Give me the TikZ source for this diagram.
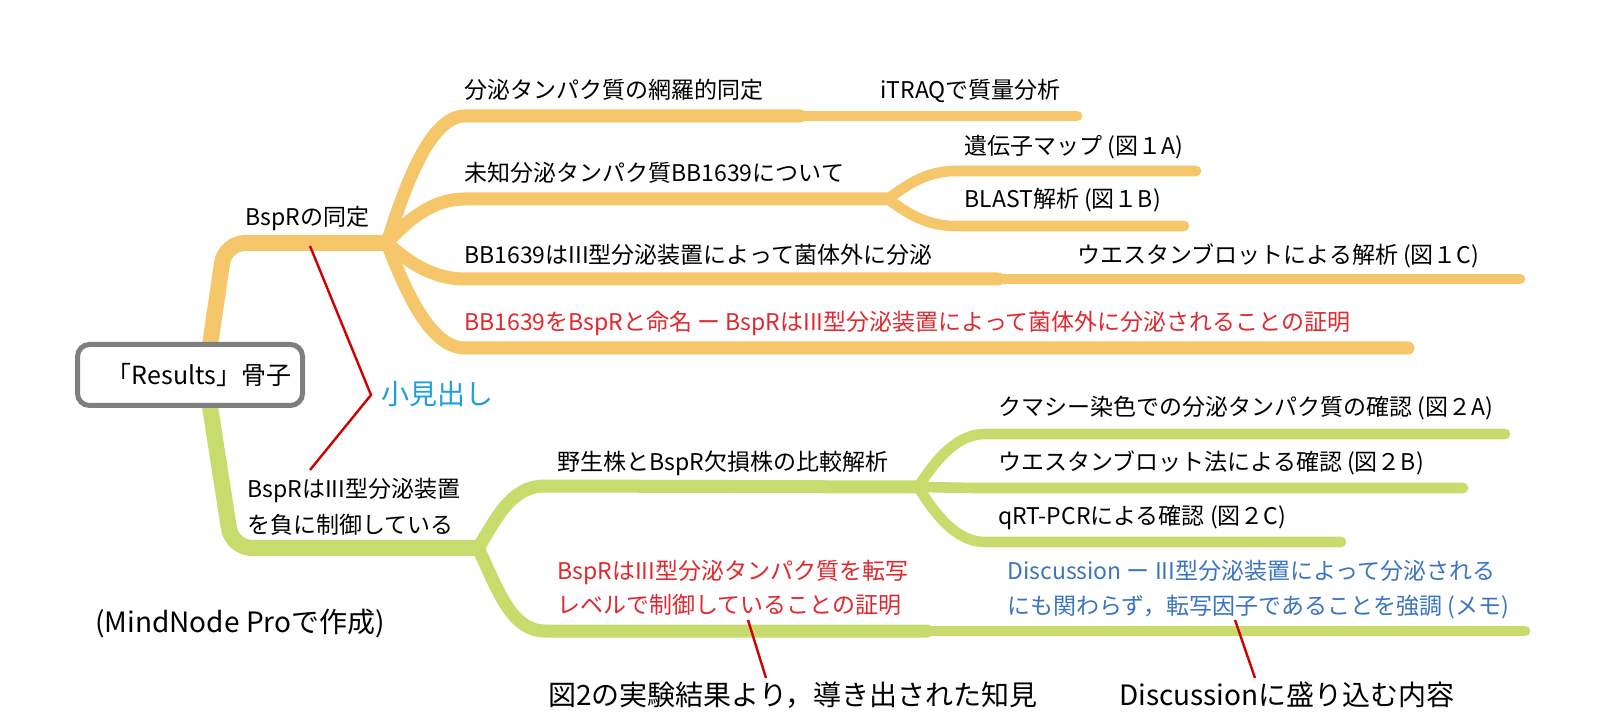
\documentclass[tikz,border=0pt]{standalone}
\usepackage{fontspec}
\setmainfont{Noto Sans CJK JP}
\definecolor{orangeb}{HTML}{F6C66A}
\definecolor{greenb}{HTML}{C7DC6C}
\definecolor{redt}{HTML}{E0282E}
\definecolor{bluet}{HTML}{3B74BF}
\definecolor{cyant}{HTML}{1E9FE0}
\definecolor{redl}{HTML}{D00000}
\definecolor{boxgray}{HTML}{7F7F7F}
\tikzset{
  lbl/.style={anchor=base west, inner sep=0pt, font=\fontsize{11.5pt}{14pt}\selectfont},
  anno/.style={anchor=base west, inner sep=0pt, font=\fontsize{#1}{#1}\selectfont},
  brmain/.style={line width=8pt, line cap=round, rounded corners=10pt},
  brchild/.style={line width=6.5pt, line cap=round},
  brgrand/.style={line width=5.3pt, line cap=round},
  notel/.style={draw=redl, line width=1.2pt},
  rootbox/.style={draw=boxgray, line width=2.5pt, fill=white, rounded corners=6pt,
    minimum width=112.5pt, minimum height=30.5pt, inner sep=0pt,
    font=\fontsize{12.5pt}{14pt}\selectfont}
}
\begin{document}
\begin{tikzpicture}[x=0.5pt,y=-0.5pt]
\fill[white] (0,0) rectangle (1600,715);
\useasboundingbox (0,0) rectangle (1600,715);

% ---------- orange branch ----------
\coordinate (oR) at (209,352);
\coordinate (oF) at (387,243);
\coordinate (c1s) at (465,116); \coordinate (c1e) at (800,116); \coordinate (c1g) at (1077,116);
\coordinate (c2s) at (465,199); \coordinate (c2F) at (888,199);
\coordinate (c21s) at (955,171); \coordinate (c21e) at (1196,171);
\coordinate (c22s) at (955,226); \coordinate (c22e) at (1184,226);
\coordinate (c3s) at (465,279); \coordinate (c3e) at (998,279); \coordinate (c3g) at (1520,279);
\coordinate (c4s) at (465,348); \coordinate (c4e) at (1408,348);

\begin{scope}[draw=orangeb]
\draw[brmain] (oR) -- (225,243) -- (oF);
\draw[brchild] (oF) .. controls +(18,-57) and +(-35,0) .. (c1s) -- (c1e);
\draw[brgrand] (c1e) -- (c1g);
\draw[brchild] (oF) .. controls +(18,-20) and +(-35,0) .. (c2s) -- (c2F);
\draw[brgrand] (c2F) .. controls +(16,-12) and +(-30,0) .. (c21s) -- (c21e);
\draw[brgrand] (c2F) .. controls +(16,12) and +(-30,0) .. (c22s) -- (c22e);
\draw[brchild] (oF) .. controls +(18,16) and +(-35,0) .. (c3s) -- (c3e);
\draw[brgrand] (c3e) -- (c3g);
\draw[brchild] (oF) .. controls +(18,47) and +(-35,0) .. (c4s) -- (c4e);
\end{scope}

% ---------- green branch ----------
\coordinate (gR) at (209,400);
\coordinate (gF) at (478,548);
\coordinate (gAs) at (545,486); \coordinate (gAF) at (918,487);
\coordinate (gA1s) at (985,434); \coordinate (gA1e) at (1505,434);
\coordinate (gA2s) at (985,488); \coordinate (gA2e) at (1463,488);
\coordinate (gA3s) at (985,542); \coordinate (gA3e) at (1341,542);
\coordinate (gBs) at (545,631); \coordinate (gBe) at (927,631); \coordinate (gBg) at (1525,631);

\begin{scope}[draw=greenb]
\draw[brmain] (gR) -- (232,548) -- (gF);
\draw[brchild] (gF) .. controls +(18,-28) and +(-35,0) .. (gAs) -- (gAF);
\draw[brgrand] (gAF) .. controls +(16,-24) and +(-30,0) .. (gA1s) -- (gA1e);
\draw[brgrand] (gAF) .. controls +(16,0) and +(-30,0) .. (gA2s) -- (gA2e);
\draw[brgrand] (gAF) .. controls +(16,25) and +(-30,0) .. (gA3s) -- (gA3e);
\draw[brchild] (gF) .. controls +(18,37) and +(-35,0) .. (gBs) -- (gBe);
\draw[brgrand] (gBe) -- (gBg);
\end{scope}

% ---------- labels ----------
\node[lbl] (o0) at (245,226) {BspRの同定};
\node[lbl] (o1) at (464,99) {分泌タンパク質の網羅的同定};
\node[lbl] (o11) at (880,99) {iTRAQで質量分析};
\node[lbl] (o2) at (464,182) {未知分泌タンパク質BB1639について};
\node[lbl] (o21) at (964,155) {遺伝子マップ (図１A)};
\node[lbl] (o22) at (964,208) {BLAST解析 (図１B)};
\node[lbl] (o3) at (464,264) {BB1639はIII型分泌装置によって菌体外に分泌};
\node[lbl] (o31) at (1077,264) {ウエスタンブロットによる解析 (図１C)};
\node[lbl, text=redt] (o4) at (464,331) {BB1639をBspRと命名 ー BspRはIII型分泌装置によって菌体外に分泌されることの証明};

\node[lbl] (g0a) at (247,498) {BspRはIII型分泌装置};
\node[lbl] (g0b) at (247,533) {を負に制御している};
\node[lbl] (g1) at (557,471) {野生株とBspR欠損株の比較解析};
\node[lbl] (g11) at (998,416) {クマシー染色での分泌タンパク質の確認 (図２A)};
\node[lbl] (g12) at (998,471) {ウエスタンブロット法による確認 (図２B)};
\node[lbl] (g13) at (998,524) {qRT-PCRによる確認 (図２C)};
\node[lbl, text=redt] (g2a) at (557,580) {BspRはIII型分泌タンパク質を転写};
\node[lbl, text=redt] (g2b) at (557,613) {レベルで制御していることの証明};
\node[lbl, text=bluet] (g21a) at (1007,580) {Discussion ー III型分泌装置によって分泌される};
\node[lbl, text=bluet] (g21b) at (1007,614) {にも関わらず，転写因子であることを強調 (メモ)};

% ---------- root ----------
\node[rootbox] (root) at (190,375) {\hspace*{9pt}「Results」骨子};

% ---------- annotations ----------
\node[anno=14pt, text=cyant] (midashi) at (381,405) {小見出し};
\node[anno=14pt] (tool) at (95,632) {(MindNode Proで作成)};
\node[anno=14pt] (fig2) at (548,705) {図2の実験結果より，導き出された知見};
\node[anno=14pt] (disc) at (1119,705) {Discussionに盛り込む内容};

\coordinate (r1a) at (310,246);
\coordinate (r1b) at (371,395);
\coordinate (r1c) at (310,470);
\draw[notel] (r1a) -- (r1b) -- (r1c);
\coordinate (r2a) at (748,620);
\coordinate (r2b) at (766,678);
\draw[notel] (r2a) -- (r2b);
\coordinate (r3a) at (1235,620);
\coordinate (r3b) at (1255,678);
\draw[notel] (r3a) -- (r3b);
\end{tikzpicture}
\end{document}
